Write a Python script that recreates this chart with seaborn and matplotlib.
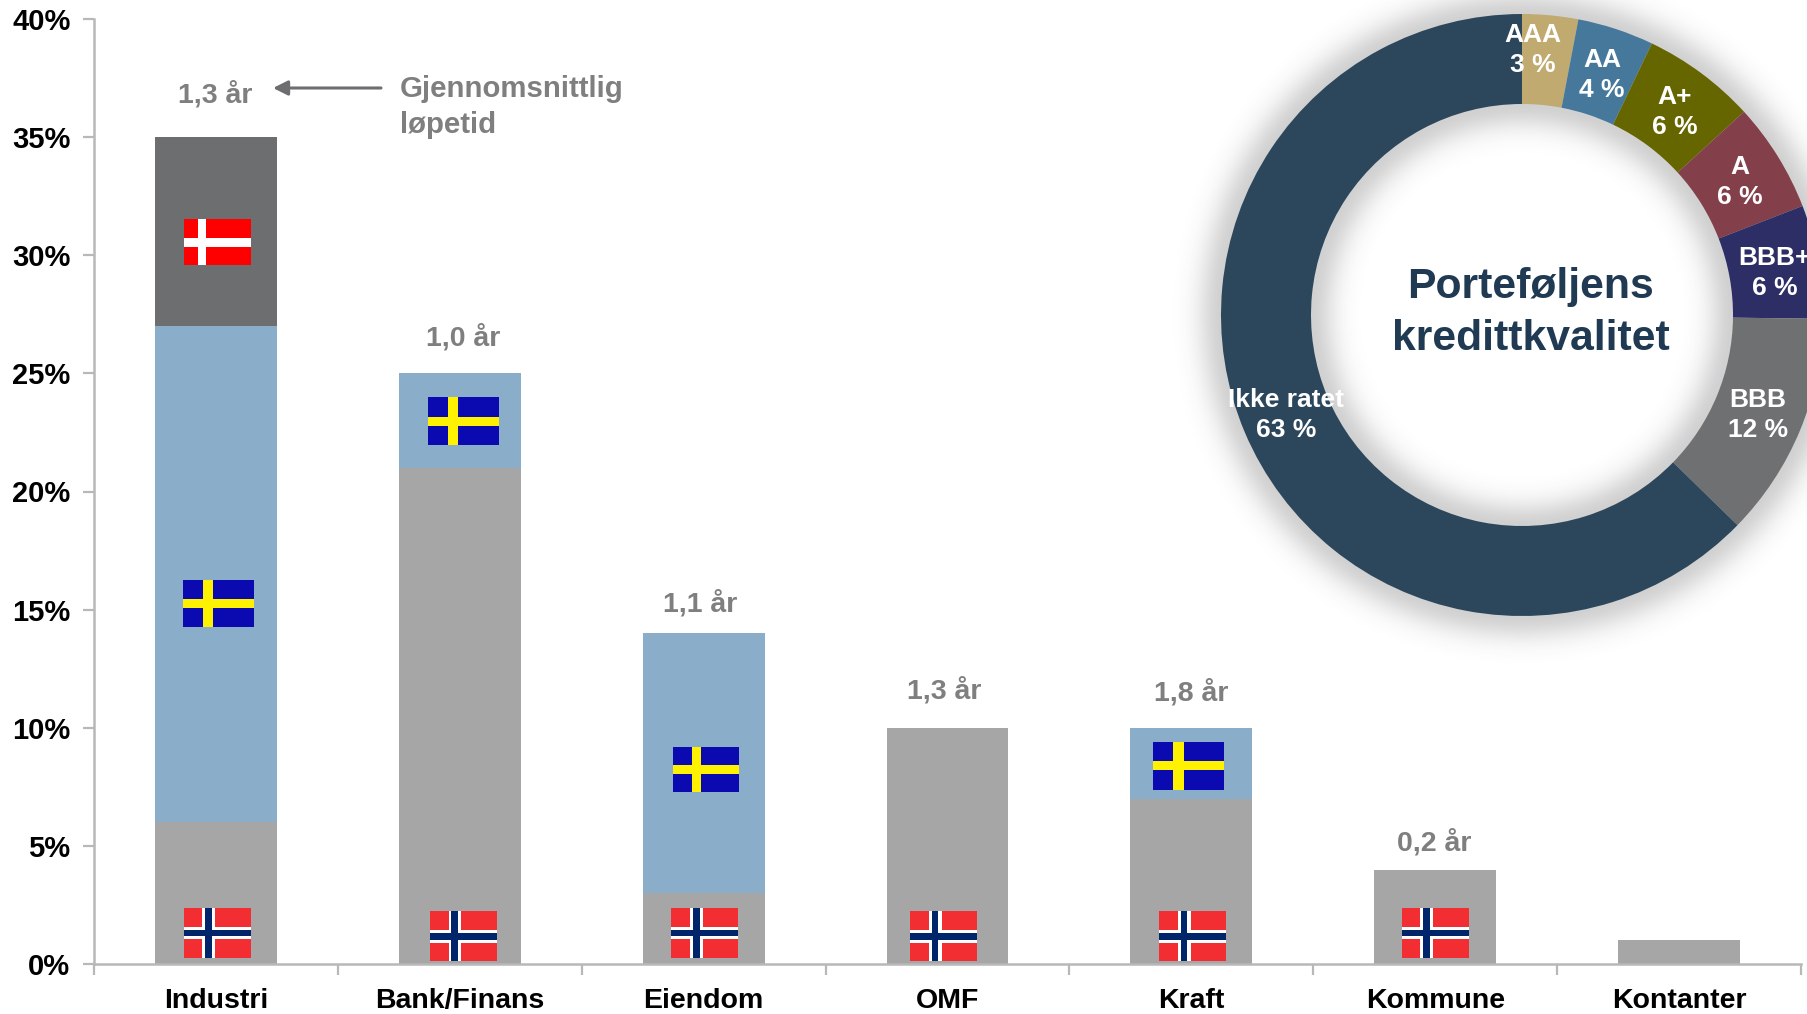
import numpy as np
import pandas as pd
import seaborn as sns
import matplotlib
matplotlib.use("Agg")
import matplotlib.pyplot as plt
from matplotlib.patches import Rectangle
from matplotlib.transforms import Affine2D

sns.set_theme(style="white")
plt.rcParams['font.family'] = ['Liberation Sans', 'DejaVu Sans']
plt.rcParams['font.weight'] = 'bold'

categories = ["Industri", "Bank/Finans", "Eiendom", "OMF", "Kraft", "Kommune", "Kontanter"]
norge = [6, 21, 3, 10, 7, 4, 1]
sverige = [21, 4, 11, 0, 3, 0, 0]
danmark = [8, 0, 0, 0, 0, 0, 0]
maturity = ["1,3 år", "1,0 år", "1,1 år", "1,3 år", "1,8 år", "0,2 år", ""]
y_ticks = [0, 5, 10, 15, 20, 25, 30, 35, 40]

rating_labels = ["AAA", "AA", "A+", "A", "BBB+", "BBB", "Ikke ratet"]
rating_values = [3.0, 4.1, 6.1, 5.9, 6.1, 12.1, 62.7]

W, H = 1808, 1014
fig = plt.figure(figsize=(W / 100, H / 100), dpi=100, facecolor="white")
px = Affine2D().scale(1 / W, -1 / H).translate(0, 1) + fig.transFigure

L, R, T, B = 94, 1801, 19, 964
ax = fig.add_axes([L / W, 1 - B / H, (R - L) / W, (B - T) / H])

C_NO, C_SE, C_DK = "#a6a6a6", "#8aaec9", "#6d6e70"
df = pd.DataFrame({"cat": categories, "no": norge, "se": sverige, "dk": danmark})
bottom = np.zeros(len(df))
for col, colr in (("no", C_NO), ("se", C_SE), ("dk", C_DK)):
    sns.barplot(data=df, x="cat", y=col, color=colr, width=0.5, bottom=bottom,
                saturation=1, ax=ax, errorbar=None, linewidth=0)
    bottom = bottom + df[col].to_numpy()

ax.set_xlim(-0.5, 6.5)
ax.set_ylim(0, 40)
ax.set_xlabel("")
ax.set_ylabel("")
ax.set_yticks(y_ticks)
ax.set_yticklabels([f"{v}%" for v in y_ticks], fontsize=21, fontweight="bold", color="black")
ax.set_xticks(range(7))
ax.set_xticklabels(categories, fontsize=20.5, fontweight="bold", color="black")
ax.set_xticks(np.arange(-0.5, 7, 1), minor=True)
ax.tick_params(axis="x", which="major", length=0, pad=17)
ax.tick_params(axis="x", which="minor", length=8, width=1.6, color="#b8b8b8", bottom=True)
ax.tick_params(axis="y", length=8, width=1.6, color="#b8b8b8", left=True, pad=9)
for s in ("top", "right"):
    ax.spines[s].set_visible(False)
for s in ("left", "bottom"):
    ax.spines[s].set_color("#b8b8b8")
    ax.spines[s].set_linewidth(1.8)
ax.spines["bottom"].set_bounds(-0.5, 6.5)

# maturity labels above the bars
GREY = "#7f7f7f"
lift = [42, 36, 30, 37, 35, 27, 0]
shift = [-1, 3, -4, -3, 0, -1, 0]
for i, lab in enumerate(maturity):
    if lab:
        ax.annotate(lab, (i, bottom[i]), xytext=(shift[i], lift[i]), textcoords="offset pixels",
                    ha="center", va="center", fontsize=20.5, fontweight="bold", color=GREY)

ax.annotate("", xy=(273, 88), xytext=(381, 88), xycoords=px, textcoords=px,
            arrowprops=dict(arrowstyle="-|>", color="#6d6e70", lw=2.2, mutation_scale=22,
                            shrinkA=0, shrinkB=0))
fig.text(400, 107, "Gjennomsnittlig\nløpetid", transform=px, ha="left", va="center", fontsize=21.2,
         fontweight="bold", color=GREY, linespacing=1.33)


# flags, drawn in data position with a fixed pixel size
def flag(i, y, kind, w, h):
    cx, cy = ax.transData.transform((i, y))
    cy = H - cy
    if kind == "no":
        base = "#f22e33"
        verts = [("#ffffff", 0.28, 0.19), ("#00256a", 0.32, 0.10)]
        horzs = [("#ffffff", 0.38, 0.25), ("#00256a", 0.44, 0.13)]
    elif kind == "se":
        base = "#0a0ab0"
        verts = [("#fff200", 0.28, 0.15)]
        horzs = [("#fff200", 0.40, 0.20)]
    else:
        base = "#ff0000"
        verts = [("#ffffff", 0.21, 0.13)]
        horzs = [("#ffffff", 0.42, 0.19)]
    x0, y0 = cx - w / 2, cy - h / 2
    fig.add_artist(Rectangle((x0, y0), w, h, transform=px, color=base, lw=0, zorder=5))
    for (c1, vx, vw), (c2, hy, hh) in zip(verts, horzs):
        fig.add_artist(Rectangle((x0 + vx * w, y0), vw * w, h, transform=px, color=c1, lw=0, zorder=6))
        fig.add_artist(Rectangle((x0, y0 + hy * h), w, hh * h, transform=px, color=c2, lw=0, zorder=6))


for i, dx, y in [(0, 0.005, 1.32), (1, 0.015, 1.17), (2, 0.005, 1.32), (3, -0.015, 1.17), (4, 0.005, 1.17), (5, 0, 1.32)]:
    flag(i + dx, y, "no", 67, 50)
flag(0.01, 15.25, "se", 71, 47)
flag(1.015, 22.97, "se", 71, 48)
flag(2.01, 8.25, "se", 66, 45)
flag(3.99, 8.4, "se", 71, 48)
flag(0.005, 30.58, "dk", 67, 46)

# donut
CX, CY, RO, RI = 1522, 315, 301, 211
S = 380
pax = fig.add_axes([(CX - S) / W, 1 - (CY + S) / H, 2 * S / W, 2 * S / H])
pax.patch.set_alpha(0)
pax.set_xlim(-S, S)
pax.set_ylim(-S, S)
pax.set_aspect("equal")
pax.axis("off")

g = np.linspace(-S, S, 500)
xx, yy = np.meshgrid(g, g)
rr = np.hypot(xx, yy)
d = np.where(rr > RO, rr - RO, np.where(rr < RI, RI - rr, 0))
alpha = 0.24 * np.exp(-(d / 24.0) ** 2)
rgba = np.zeros(rr.shape + (4,))
rgba[..., :3] = 0.25
rgba[..., 3] = alpha
pax.imshow(rgba, extent=(-S, S, -S, S), origin="lower", interpolation="bilinear", zorder=0)

pie_colors = ["#c0aa6f", "#46789c", "#666600", "#83404a", "#2e2e66", "#6f7072", "#2c475c"]
wedges, _ = pax.pie(rating_values, colors=pie_colors, radius=RO, startangle=90, counterclock=False,
                    wedgeprops=dict(width=RO - RI, linewidth=0), frame=True)
pax.set_xlim(-S, S)
pax.set_ylim(-S, S)
pax.axis("off")
for w_ in wedges:
    w_.set_zorder(2)

label_xy = [(1533, 50), (1602, 75), (1675, 112), (1740, 182), (1775, 273), (1758, 415), (1286, 415)]
for lab, val, (lx, ly) in zip(rating_labels, rating_values, label_xy):
    fig.text(lx, ly, f"{lab}\n{val:.0f} %", transform=px, ha="center", va="center", color="white",
             fontsize=19, fontweight="bold", linespacing=1.36, zorder=10)

fig.text(1531, 313, "Porteføljens\nkredittkvalitet", transform=px, ha="center", va="center",
         color="#1f3a52", fontsize=30.8, fontweight="bold", linespacing=1.39, zorder=10)

fig.savefig("out.png", dpi=100, facecolor="white")
